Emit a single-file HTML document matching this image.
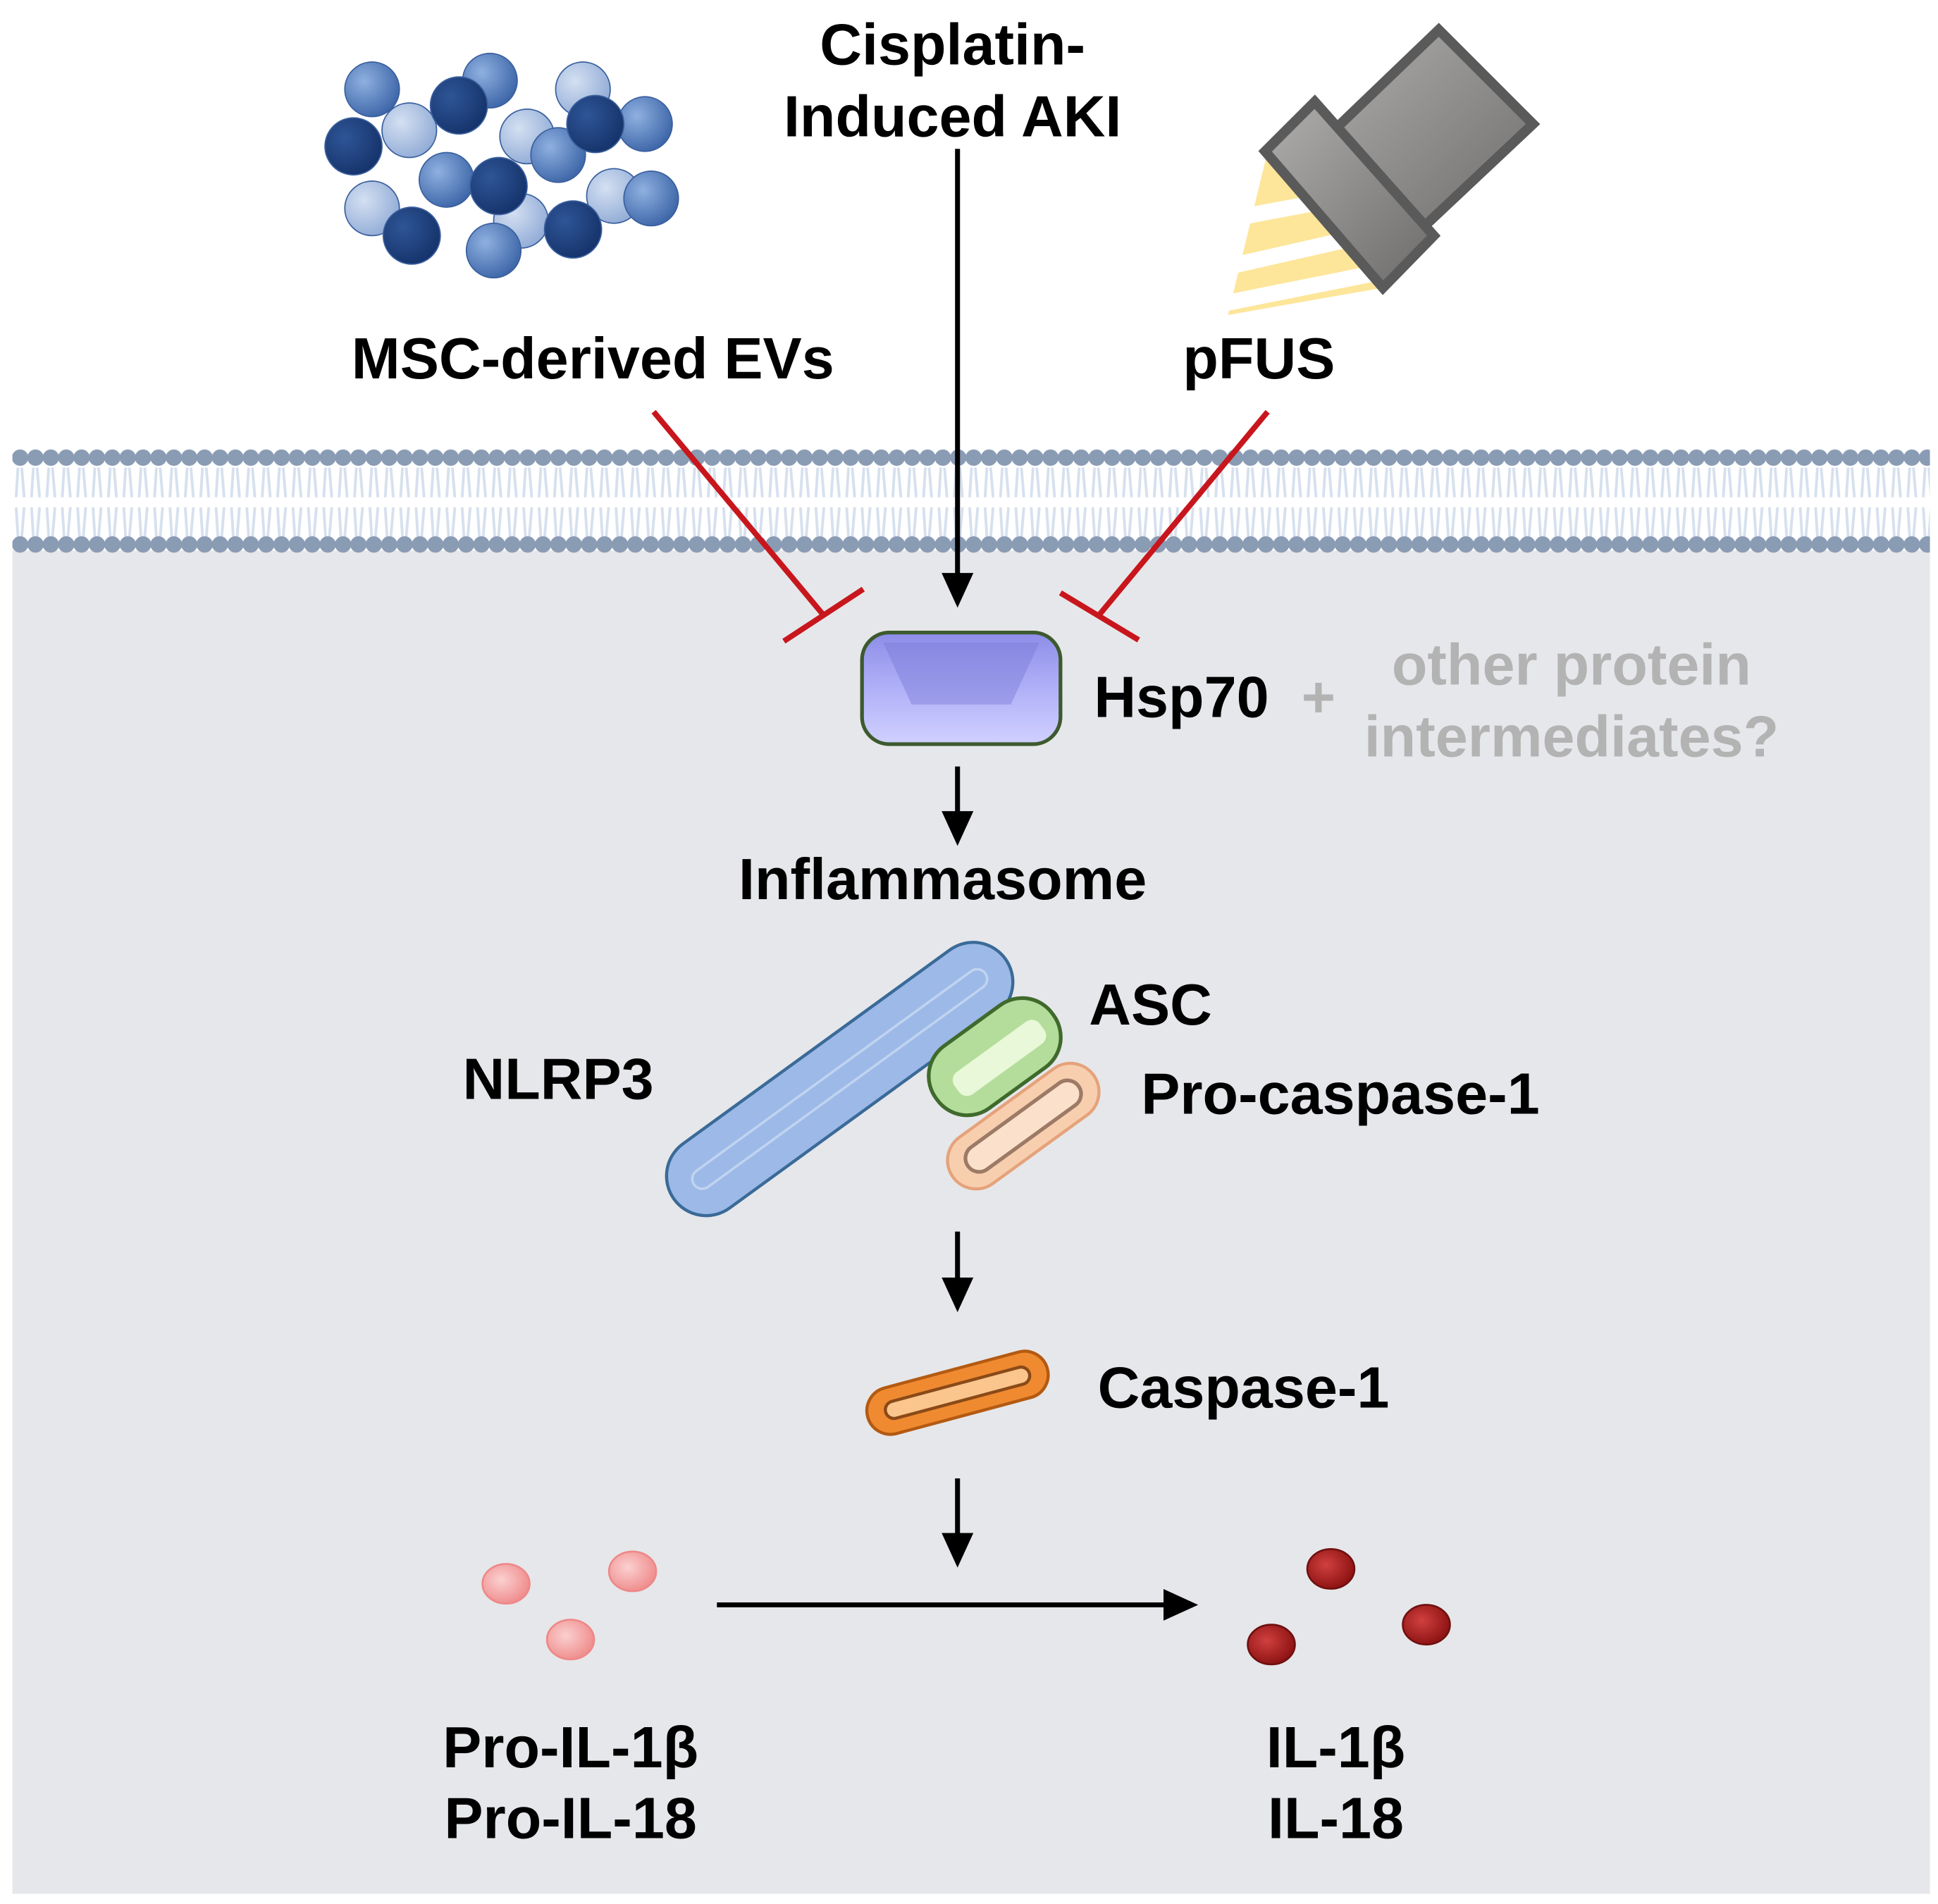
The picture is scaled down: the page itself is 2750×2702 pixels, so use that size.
<!DOCTYPE html>
<html><head><meta charset="utf-8"><style>
html,body{margin:0;padding:0;background:#fff}
svg{display:block}
text{font-family:"Liberation Sans",Arial,sans-serif;font-weight:bold}
</style></head><body>
<svg width="2750" height="2702" viewBox="0 0 1562.5 1535.2" xmlns="http://www.w3.org/2000/svg">
<defs>
<radialGradient id="dk" cx="35%" cy="35%" r="70%"><stop offset="0" stop-color="#2f5596"/><stop offset="1" stop-color="#15336b"/></radialGradient>
<radialGradient id="md" cx="35%" cy="35%" r="70%"><stop offset="0" stop-color="#8fb0e0"/><stop offset="1" stop-color="#3d66a8"/></radialGradient>
<radialGradient id="lt" cx="35%" cy="35%" r="70%"><stop offset="0" stop-color="#d4e0f2"/><stop offset="1" stop-color="#92acd6"/></radialGradient>
<radialGradient id="pk" cx="40%" cy="40%" r="65%"><stop offset="0" stop-color="#fbd0d0"/><stop offset="1" stop-color="#ef8a8a"/></radialGradient>
<radialGradient id="rd" cx="40%" cy="40%" r="65%"><stop offset="0" stop-color="#d04040"/><stop offset="1" stop-color="#8a1010"/></radialGradient>
<linearGradient id="hsp" x1="0" y1="0" x2="0" y2="1"><stop offset="0" stop-color="#8d8de8"/><stop offset="0.5" stop-color="#b0b0f8"/><stop offset="1" stop-color="#d0d0ff"/></linearGradient>
<linearGradient id="gr" x1="0" y1="0" x2="1" y2="1"><stop offset="0" stop-color="#b0afad"/><stop offset="1" stop-color="#6c6b6a"/></linearGradient>
<marker id="ah" markerWidth="8" markerHeight="8" refX="5" refY="4" orient="auto" markerUnits="strokeWidth"><path d="M0,0.8 L7,4 L0,7.2 Z" fill="#000"/></marker>
<pattern id="tailp" x="10" y="377" width="12.4" height="56" patternUnits="userSpaceOnUse">
<g stroke="#d6e0ee" stroke-width="2.2" fill="none">
<path d="M4.5,0 L3,24 M7.5,0 L9.5,24"/>
<path d="M3,32 L4.5,56 M9.5,32 L7.5,56"/>
</g>
</pattern>
<pattern id="head1" x="10" y="359" width="12.4" height="20" patternUnits="userSpaceOnUse">
<circle cx="6.2" cy="10" r="6.6" fill="#8a9bb4"/>
</pattern>
<pattern id="head2" x="10" y="429" width="12.4" height="20" patternUnits="userSpaceOnUse">
<circle cx="6.2" cy="10" r="6.6" fill="#8a9bb4"/>
</pattern>
</defs>
<rect x="0" y="0" width="1562.5" height="1535.2" fill="#fff"/>
<rect x="10" y="444" width="1546" height="1083" fill="#e6e7ea"/>
<!-- membrane -->
<rect x="10" y="377" width="1546" height="56" fill="url(#tailp)"/>
<rect x="10" y="359" width="1546" height="20" fill="url(#head1)"/>
<rect x="10" y="429" width="1546" height="20" fill="url(#head2)"/>
<!-- EVs -->
<g stroke="#3a5f9e" stroke-width="1">
<circle cx="300" cy="72" r="22" fill="url(#md)"/>
<circle cx="395" cy="65" r="22" fill="url(#md)"/>
<circle cx="470" cy="72" r="22" fill="url(#lt)"/>
<circle cx="330" cy="105" r="22" fill="url(#lt)"/>
<circle cx="520" cy="100" r="22" fill="url(#md)"/>
<circle cx="425" cy="110" r="22" fill="url(#lt)"/>
<circle cx="450" cy="125" r="22" fill="url(#md)"/>
<circle cx="360" cy="145" r="22" fill="url(#md)"/>
<circle cx="300" cy="168" r="22" fill="url(#lt)"/>
<circle cx="495" cy="158" r="22" fill="url(#lt)"/>
<circle cx="525" cy="160" r="22" fill="url(#md)"/>
<circle cx="420" cy="178" r="22" fill="url(#lt)"/>
<circle cx="398" cy="202" r="22" fill="url(#md)"/>
<circle cx="370" cy="85" r="23" fill="url(#dk)"/>
<circle cx="285" cy="118" r="23" fill="url(#dk)"/>
<circle cx="480" cy="100" r="23" fill="url(#dk)"/>
<circle cx="402" cy="150" r="23" fill="url(#dk)"/>
<circle cx="332" cy="190" r="23" fill="url(#dk)"/>
<circle cx="462" cy="185" r="23" fill="url(#dk)"/>
</g>
<!-- pFUS -->
<g>
<polygon points="1022,122 1115,232 990,254" fill="#fde69a"/>
<g stroke="#fff" stroke-width="13"><line x1="1000" y1="175" x2="1080" y2="160"/><line x1="990" y1="215" x2="1100" y2="190"/><line x1="985" y1="245" x2="1110" y2="220"/></g>
<polygon points="1160,24 1236,100 1136,194 1062,118" fill="url(#gr)" stroke="#5a5a5a" stroke-width="8"/>
<polygon points="1060,82 1156,190 1115,232 1020,122" fill="url(#gr)" stroke="#5a5a5a" stroke-width="8"/>
</g>
<!-- labels -->
<g font-size="47" fill="#000" text-anchor="middle">
<text x="768" y="52">Cisplatin-</text>
<text x="768" y="110">Induced AKI</text>
<text x="478" y="305">MSC-derived EVs</text>
<text x="1015" y="305">pFUS</text>
<text x="760" y="725">Inflammasome</text>
<text x="460" y="1425">Pro-IL-1β</text>
<text x="460" y="1482">Pro-IL-18</text>
<text x="1077" y="1425">IL-1β</text>
<text x="1077" y="1482">IL-18</text>
</g>
<g font-size="47" fill="#000">
<text x="882" y="578">Hsp70</text>
<text x="878" y="826">ASC</text>
<text x="373" y="886">NLRP3</text>
<text x="920" y="898">Pro-caspase-1</text>
<text x="885" y="1135">Caspase-1</text>
</g>
<g font-size="47" fill="#b3b3b3" text-anchor="middle">
<text x="1063" y="578">+</text>
<text x="1267" y="552">other protein</text>
<text x="1267" y="610">intermediates?</text>
</g>
<!-- arrows -->
<g stroke="#000" stroke-width="4" fill="none" marker-end="url(#ah)">
<line x1="772" y1="120" x2="772" y2="482"/>
<line x1="772" y1="618" x2="772" y2="674"/>
<line x1="772" y1="993" x2="772" y2="1050"/>
<line x1="772" y1="1192" x2="772" y2="1256"/>
<line x1="578" y1="1294" x2="958" y2="1294"/>
</g>
<g stroke="#c8161d" stroke-width="4.5" fill="none">
<line x1="527" y1="332" x2="664" y2="496"/>
<line x1="632" y1="517" x2="696" y2="475"/>
<line x1="1022" y1="332" x2="886" y2="496"/>
<line x1="855" y1="478" x2="918" y2="516"/>
</g>
<!-- Hsp70 -->
<rect x="695" y="510" width="160" height="90" rx="22" fill="url(#hsp)" stroke="#3d5a2e" stroke-width="3"/>
<polygon points="712,518 838,518 815,568 735,568" fill="#7a7ad8" opacity="0.45"/>
<!-- NLRP3 -->
<g transform="translate(677,870) rotate(-36)">
<rect x="-165" y="-32" width="330" height="64" rx="32" fill="#9db9e8" stroke="#3a6a98" stroke-width="2.5"/>
<rect x="-145" y="-8" width="290" height="16" rx="8" fill="none" stroke="#c0d4f0" stroke-width="2"/>
</g>
<g transform="translate(802,852) rotate(-36)">
<rect x="-58" y="-31" width="116" height="62" rx="30" fill="#b4dd9c" stroke="#3f6a2c" stroke-width="3"/>
<rect x="-40" y="-8" width="85" height="22" rx="8" fill="#e8f8d8"/>
</g>
<g transform="translate(825,908) rotate(-36)">
<rect x="-70" y="-23" width="140" height="46" rx="23" fill="#f8cfae" stroke="#e5a27a" stroke-width="2.5"/>
<rect x="-55" y="-11" width="110" height="22" rx="11" fill="#fbe1cb" stroke="#9c7a66" stroke-width="3"/>
</g>
<!-- Caspase-1 -->
<g transform="translate(772,1123) rotate(-15)">
<rect x="-75" y="-19" width="150" height="38" rx="19" fill="#f08a30" stroke="#b35a12" stroke-width="2.5"/>
<rect x="-60" y="-7" width="120" height="14" rx="7" fill="#fbc58e" stroke="#8a4a18" stroke-width="2.5"/>
</g>
<!-- IL circles -->
<g stroke="#e88" stroke-width="1.5">
<ellipse cx="408" cy="1277" rx="19" ry="16" fill="url(#pk)"/>
<ellipse cx="510" cy="1267" rx="19" ry="16" fill="url(#pk)"/>
<ellipse cx="460" cy="1322" rx="19" ry="16" fill="url(#pk)"/>
</g>
<g stroke="#701010" stroke-width="1.5">
<ellipse cx="1073" cy="1265" rx="19" ry="16" fill="url(#rd)"/>
<ellipse cx="1150" cy="1310" rx="19" ry="16" fill="url(#rd)"/>
<ellipse cx="1025" cy="1326" rx="19" ry="16" fill="url(#rd)"/>
</g>
</svg>
</body></html>
